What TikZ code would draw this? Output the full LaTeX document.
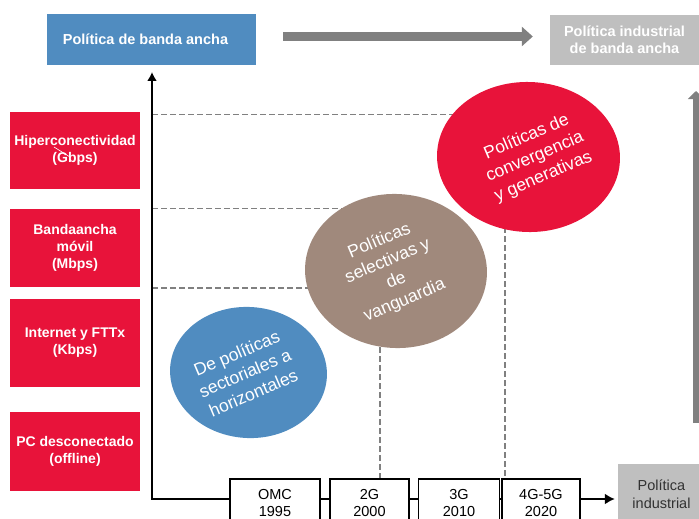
\documentclass[tikz,border=0pt]{standalone}
\usepackage{fontspec}
\setmainfont{Liberation Sans}
\usetikzlibrary{shapes.geometric,arrows.meta}
\definecolor{cblue}{RGB}{80,140,192}
\definecolor{cred}{RGB}{232,19,58}
\definecolor{cbrown}{RGB}{160,137,124}
\definecolor{cgrey}{RGB}{128,128,128}
\definecolor{clgrey}{RGB}{191,191,191}
\definecolor{ctext}{RGB}{50,50,50}
\begin{document}
\begin{tikzpicture}[x=1pt,y=-1pt,
  redbox/.style={fill=cred, text=white, font=\fontsize{14}{17}\selectfont\bfseries, align=center, minimum width=130pt, inner sep=0pt},
  topbox/.style={text=white, font=\fontsize{14.5}{17}\selectfont\bfseries, align=center, inner sep=0pt},
  yearbox/.style={draw=black, fill=white, line width=1.3pt, text=black, font=\fontsize{14.5}{17}\selectfont, align=center, minimum height=48pt, inner sep=0pt},
  blob/.style={ellipse, inner sep=0pt, draw=none},
  blobtext/.style={text=white, font=\fontsize{17.5}{21.5}\selectfont, align=center, rotate=23, inner sep=0pt},
  dashline/.style={draw=cgrey, line width=1.3pt, dash pattern=on 6pt off 3pt},
  axis/.style={draw=black, line width=1.8pt},
  bigarrow/.style={draw=cgrey, line width=9pt},
]
\useasboundingbox (0,0) rectangle (699,519);
\clip (0,0) rectangle (699,519);

% top boxes
\node[topbox, fill=cblue, minimum width=209pt, minimum height=51pt] (pbanda) at (151.5,39.5) {Política de banda ancha\hspace{12pt}};
\node[topbox, fill=clgrey, minimum width=149pt, minimum height=50pt] (pindba) at (624.5,40) {Política industrial\\de banda ancha};
\draw[bigarrow, -{Triangle[length=11pt,width=19pt]}] ([xshift=27pt,yshift=3pt]pbanda.east) -- ([xshift=-17pt,yshift=3.5pt]pindba.west);

% left red boxes
\node[redbox, minimum height=77pt] (hiper) at (75,150.5) {Hiperconectividad\\(Gbps)};
\draw[white, line width=0.6pt] (54,147) -- (70,157);
\node[redbox, minimum height=78pt] (movil) at (75,248) {Bandaancha\\móvil\\(Mbps)};
\node[redbox, minimum height=88pt] (inet) at (75,343) {Internet y FTTx\\(Kbps)};
\node[redbox, minimum height=79pt] (pc) at (75,451.5) {PC desconectado\\(offline)};

% right grey arrow
\coordinate (rbot) at (696,423);
\coordinate (rtop) at (696,91);
\draw[draw=cgrey, line width=7pt, -{Triangle[length=8pt,width=16pt]}] (rbot) -- (rtop);

% ellipse centres and dashed guides
\coordinate (cblueE) at (248.5,372.5);
\coordinate (cbrownE) at (396,271);
\coordinate (credE) at (528.5,157);
\coordinate (h1) at (152,114.3);
\coordinate (h2) at (152,208.3);
\coordinate (h3) at (152,288);
\draw[dashline] (h1) -- (h1 -| credE);
\draw[dashline] (h2) -- (h2 -| cbrownE);
\draw[dashline] (h3) -- (h3 -| cbrownE);
\coordinate (v1a) at (380,320);
\coordinate (v1b) at (380,479);
\coordinate (v2a) at (505,200);
\coordinate (v2b) at (505,479);
\draw[dashline] (v1a) -- (v1b);
\draw[dashline] (v2a) -- (v2b);

% ellipses
\node[blob, fill=cblue, minimum width=157pt, minimum height=131pt, rotate=-4] (eblue) at (cblueE) {};
\node[blob, fill=cbrown, minimum width=182pt, minimum height=154pt, rotate=-3] (ebrown) at (cbrownE) {};
\node[blob, fill=cred, minimum width=183pt, minimum height=150pt, rotate=-2] (ered) at (credE) {};
\node[blobtext] (tblue) at (245,373) {De políticas\\sectoriales a\\horizontales};
\node[blobtext] (tbrown) at (392,271) {Políticas\\selectivas y\\de\\vanguardia};
\node[blobtext] (tred) at (535,157) {Políticas de\\convergencia\\y generativas};

% axes
\coordinate (o) at (152,499);
\coordinate (ytop) at (152,72);
\draw[axis, -{Latex[length=9pt,width=10pt]}] ([yshift=-0.9pt]o) -- (ytop);

% year boxes
\node[yearbox, minimum width=90pt] (omc) at (275,503) {OMC\\1995};
\node[yearbox, minimum width=79pt] (g2) at (369.5,503) {2G\\2000};
\node[yearbox, minimum width=81pt] (g3) at (459,503) {3G\\2010};
\node[yearbox, minimum width=78pt] (g4) at (541,503) {4G-5G\\2020};
\node[fill=clgrey, text=ctext, font=\fontsize{14.5}{18}\selectfont, align=center, minimum width=87pt, minimum height=60pt, inner sep=0pt] (pind) at (661.5,494) {Política\\industrial};

\draw[axis] ([xshift=-0.9pt]o) -- (o -| omc.west);
\draw[axis] (o -| omc.east) -- (o -| g2.west);
\draw[axis] (o -| g2.east) -- (o -| g3.west);
\draw[axis] (o -| g3.east) -- (o -| g4.west);
\draw[axis, -{Latex[length=10pt,width=11pt]}] (o -| g4.east) -- ([xshift=-3pt]o -| pind.west);
\end{tikzpicture}
\end{document}
